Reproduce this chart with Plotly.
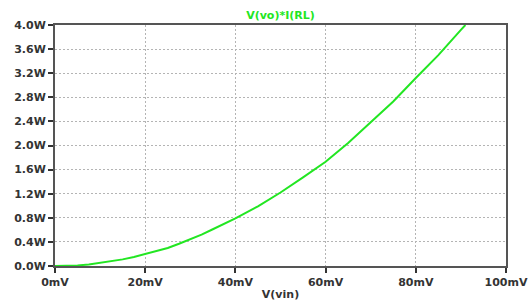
import plotly.graph_objects as go

# Data (V(vin) in mV, power in W)
vin_mv = [0, 2.5, 5, 7.5, 10, 12.5, 15, 17.5, 20, 22.5, 25, 27.5, 30, 32.5, 35, 37.5, 40, 45, 50, 55, 60, 65, 70, 75, 80, 85, 90, 91]
power_w = [0.0, 0.002, 0.01, 0.025, 0.05, 0.075, 0.11, 0.15, 0.2, 0.25, 0.3, 0.37, 0.44, 0.52, 0.61, 0.7, 0.79, 0.99, 1.22, 1.47, 1.73, 2.04, 2.38, 2.73, 3.12, 3.5, 3.92, 4.0]

x_ticks = [0, 20, 40, 60, 80, 100]
x_labels = ["0mV", "20mV", "40mV", "60mV", "80mV", "100mV"]
y_ticks = [0.0, 0.4, 0.8, 1.2, 1.6, 2.0, 2.4, 2.8, 3.2, 3.6, 4.0]
y_labels = ["0.0W", "0.4W", "0.8W", "1.2W", "1.6W", "2.0W", "2.4W", "2.8W", "3.2W", "3.6W", "4.0W"]

fig = go.Figure()
fig.add_trace(go.Scatter(
    x=vin_mv, y=power_w, mode="lines",
    line=dict(color="#22e622", width=2),
    cliponaxis=True,
))

FONT = "DejaVu Sans, Verdana, sans-serif"
font_tick = dict(family=FONT, size=11, color="#333333")

fig.update_layout(
    template="none",
    width=530, height=304,
    margin=dict(l=55, r=24, t=25, b=38, autoexpand=False),
    paper_bgcolor="white", plot_bgcolor="white",
    showlegend=False,
    title=dict(
        text="<b>V(vo)*I(RL)</b>",
        x=0.5, xref="paper", y=1 - 15 / 304, yref="container",
        xanchor="center", yanchor="middle",
        font=dict(family=FONT, size=11, color="#22e622"),
    ),
)
fig.update_xaxes(
    range=[0, 100], tickvals=x_ticks, ticktext=[f"<b>{t}</b>" for t in x_labels],
    tickfont=font_tick, automargin=False,
    showline=True, linecolor="#555555", linewidth=2, mirror=True,
    ticks="outside", ticklen=5, tickwidth=2, tickcolor="#333333",
    showgrid=True, gridcolor="#b4b4b4", griddash="2px,2px", gridwidth=1,
    zeroline=False,
    title=dict(text="<b>V(vin)</b>", font=font_tick, standoff=2),
)
fig.update_yaxes(
    range=[0, 4.0], tickvals=y_ticks, ticktext=[f"<b>{t}</b>" for t in y_labels],
    tickfont=font_tick, automargin=False,
    showline=True, linecolor="#555555", linewidth=2, mirror=True,
    ticks="outside", ticklen=5, tickwidth=2, tickcolor="#333333",
    showgrid=True, gridcolor="#b4b4b4", griddash="2px,2px", gridwidth=1,
    zeroline=False,
)

fig.write_html(
    "out.html",
    config={"displayModeBar": False},
    post_script="document.body.style.margin='0';document.body.style.overflow='hidden';",
)
